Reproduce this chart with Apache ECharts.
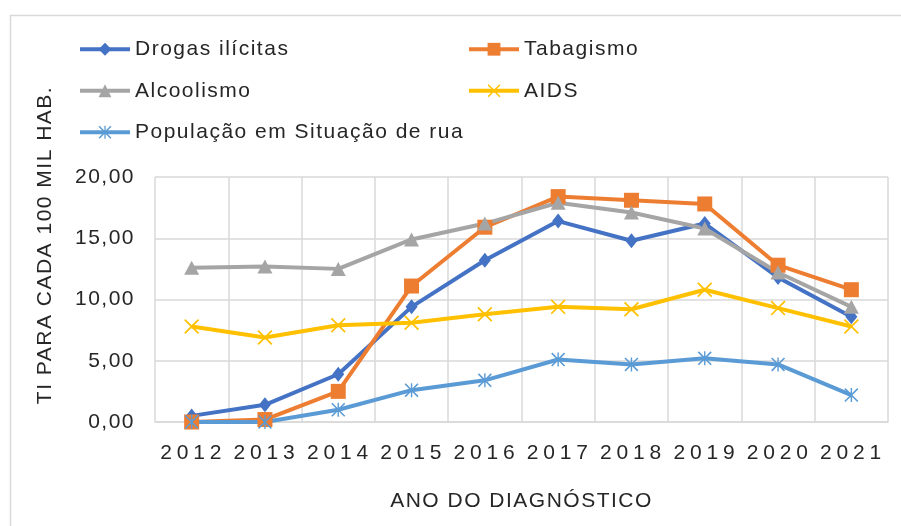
<!DOCTYPE html>
<html>
<head>
<meta charset="utf-8">
<script src="https://cdn.jsdelivr.net/npm/echarts@6/dist/echarts.min.js"></script>
<style>html,body{margin:0;padding:0;background:#fff;}#c{width:901px;height:526px;}</style>
</head>
<body>
<div id="c"></div>
<script>
const years = ['2012','2013','2014','2015','2016','2017','2018','2019','2020','2021'];
const drogas = [0.5, 1.4, 3.9, 9.4, 13.2, 16.4, 14.8, 16.2, 11.8, 8.6];
const tabagismo = [0.0, 0.2, 2.5, 11.1, 15.9, 18.4, 18.1, 17.8, 12.8, 10.8];
const alcoolismo = [12.6, 12.7, 12.5, 14.9, 16.2, 17.9, 17.1, 15.8, 12.2, 9.4];
const aids = [7.8, 6.9, 7.9, 8.1, 8.8, 9.4, 9.2, 10.8, 9.3, 7.8];
const populacao = [0.0, 0.0, 1.0, 2.6, 3.4, 5.1, 4.7, 5.2, 4.7, 2.2];
const yTicks = [0, 5, 10, 15, 20];

// slight letter spacing to mimic the wide text of the original
(function () {
  const P = window.CanvasRenderingContext2D && CanvasRenderingContext2D.prototype;
  if (!P || !('letterSpacing' in P)) return;
  const f = P.fillText, m = P.measureText;
  P.fillText = function () { this.letterSpacing = '1.5px'; return f.apply(this, arguments); };
  P.measureText = function () { this.letterSpacing = '1.5px'; return m.apply(this, arguments); };
})();

const FONT = 'Liberation Sans';
const FS = 21;
const TXT = '#262626';
const X_SYM = 'path://M0,8 L8,0 L100,92 L92,100 Z M92,0 L100,8 L8,100 L0,92 Z';
const STAR_SYM = 'path://M0,8 L8,0 L100,92 L92,100 Z M92,0 L100,8 L8,100 L0,92 Z M45,0 L55,0 L55,100 L45,100 Z';

function mk(name, data, color, symbol, size) {
  return {
    name, type: 'line', data, symbol, symbolSize: size,
    lineStyle: {color, width: 4},
    itemStyle: {color, borderWidth: 0},
    emphasis: {disabled: true},
    animation: false
  };
}

const legendCommon = {
  orient: 'vertical', itemWidth: 50, itemHeight: 16, itemGap: 19, padding: 0,
  lineStyle: {width: 4},
  textStyle: {fontFamily: FONT, fontSize: FS, color: TXT}, selectedMode: false
};

const chart = echarts.init(document.getElementById('c'), null, {renderer: 'canvas'});
chart.setOption({
  backgroundColor: '#fff',
  animation: false,
  graphic: [
    {type: 'rect', left: 8, top: 13, shape: {width: 1000, height: 700}, style: {fill: 'none', stroke: '#d9d9d9', lineWidth: 1.5}, silent: true},
    {type: 'text', x: 45, y: 245, rotation: Math.PI / 2, style: {text: 'TI PARA CADA 100 MIL HAB.', font: FS + 'px "' + FONT + '"', fill: TXT, align: 'center', verticalAlign: 'middle'}}
  ],
  legend: [
    Object.assign({left: 78, top: 38, data: ['Drogas ilícitas', 'Alcoolismo', 'População em Situação de rua']}, legendCommon),
    Object.assign({left: 467, top: 38, data: ['Tabagismo', 'AIDS']}, legendCommon)
  ],
  grid: {left: 155, right: 13, top: 177, bottom: 104, containLabel: false},
  xAxis: {
    type: 'category', data: years, boundaryGap: true,
    name: 'ANO DO DIAGNÓSTICO', nameLocation: 'middle', nameGap: 68,
    nameTextStyle: {fontFamily: FONT, fontSize: FS, color: TXT},
    axisLine: {show: true, lineStyle: {color: '#d9d9d9', width: 1.5}},
    axisTick: {show: false},
    splitLine: {show: true, interval: 0, lineStyle: {color: '#d9d9d9', width: 1.5}},
    axisLabel: {
      interval: 0, margin: 20, color: TXT, fontFamily: FONT, fontSize: FS,
      formatter: v => v.split('').map(c => '{d|' + c + '}').join(''),
      rich: {d: {width: 16.5, align: 'center', fontFamily: FONT, fontSize: FS, color: TXT}}
    }
  },
  yAxis: {
    type: 'value', min: yTicks[0], max: yTicks[yTicks.length - 1], interval: 5,
    axisLine: {show: false}, axisTick: {show: false},
    splitLine: {show: true, lineStyle: {color: '#d9d9d9', width: 1.5}},
    axisLabel: {margin: 20, color: TXT, fontFamily: FONT, fontSize: FS,
      formatter: v => v.toFixed(2).replace('.', ',')}
  },
  series: [
    mk('Drogas ilícitas', drogas, '#4472C4', 'diamond', [12, 15]),
    mk('Tabagismo', tabagismo, '#ED7D31', 'rect', 15),
    mk('Alcoolismo', alcoolismo, '#A5A5A5', 'triangle', [15, 14]),
    mk('AIDS', aids, '#FFC000', X_SYM, 15),
    mk('População em Situação de rua', populacao, '#5B9BD5', STAR_SYM, 14)
  ]
});
</script>
</body>
</html>
